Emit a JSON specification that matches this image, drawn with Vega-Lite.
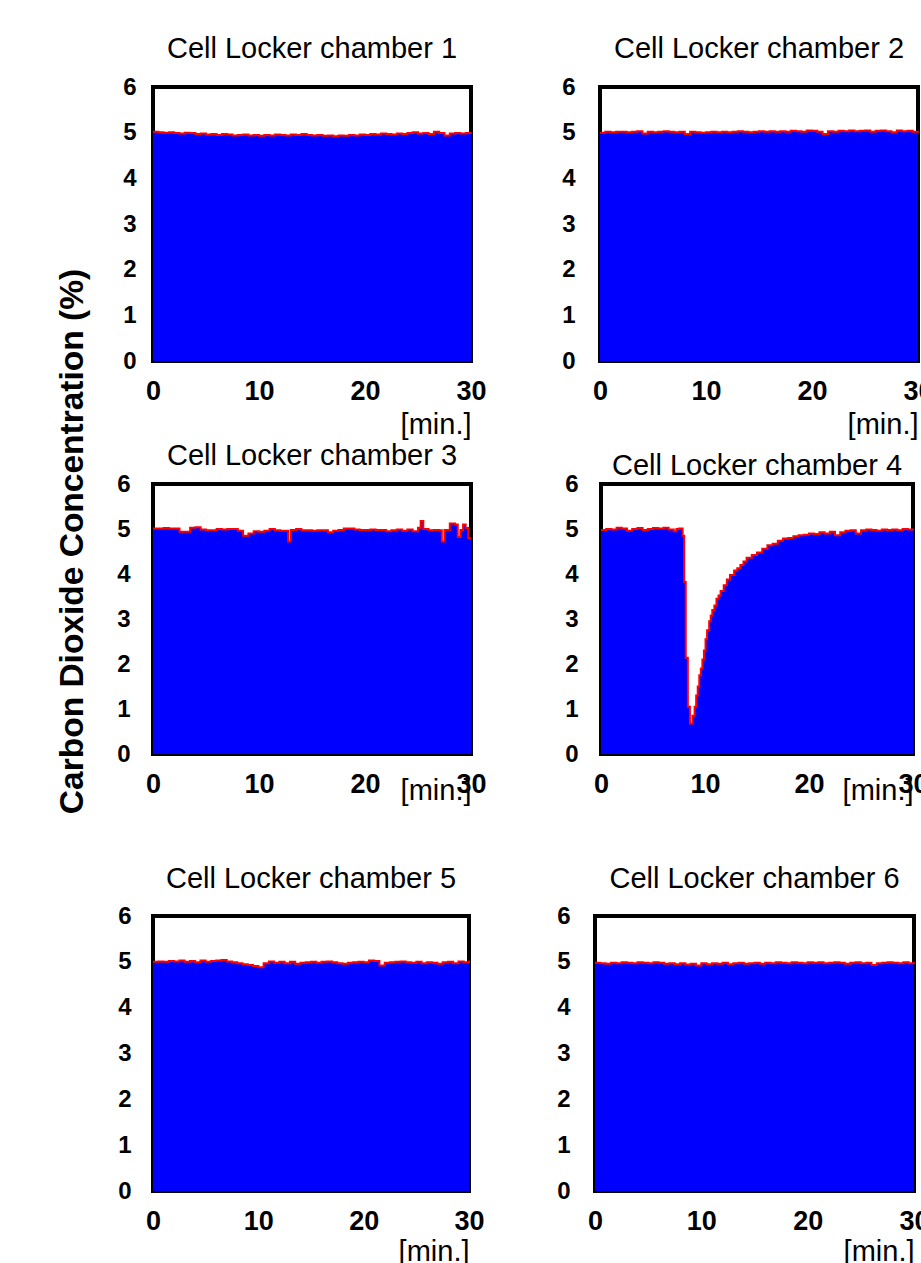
{
  "$schema": "https://vega.github.io/schema/vega-lite/v6.json",
  "padding": {"left": 56, "top": 33, "right": 0, "bottom": 0},
  "background": "white",
  "title": {"text": "Carbon Dioxide Concentration (%)", "orient": "left", "anchor": "middle", "frame": "bounds", "fontSize": 33.5, "fontWeight": "bold", "font": "Liberation Sans", "color": "black", "baseline": "alphabetic", "offset": -2, "dx": 109},
  "config": {
    "view": {"stroke": "black", "strokeWidth": 4},
    "font": "Liberation Sans",
    "title": {"font": "Liberation Sans", "fontSize": 29, "fontWeight": "normal", "color": "black", "frame": "group", "baseline": "alphabetic", "anchor": "middle"},
    "axis": {"ticks": false, "tickSize": 0, "grid": false, "domain": false, "labelFont": "Liberation Sans", "labelFontWeight": "bold", "labelColor": "black", "titleFont": "Liberation Sans", "titleFontWeight": "normal", "titleColor": "black"},
    "axisX": {"labelFontSize": 27, "labelPadding": 17, "labelFlush": false, "labelOverlap": false, "titleFontSize": 29, "titleAnchor": "end", "titleBaseline": "alphabetic", "titleY": 72},
    "axisY": {"labelFontSize": 24}
  },
  "datasets": {
    "c1": [{"t":0,"v":5.02},{"t":0.5,"v":5.01},{"t":1,"v":5.0},{"t":1.5,"v":5.01},{"t":2,"v":4.99},{"t":2.5,"v":4.98},{"t":3,"v":5.0},{"t":3.5,"v":4.99},{"t":4,"v":4.97},{"t":4.5,"v":4.98},{"t":5,"v":4.96},{"t":5.5,"v":4.97},{"t":6,"v":4.95},{"t":6.5,"v":4.97},{"t":7,"v":4.96},{"t":7.5,"v":4.94},{"t":8,"v":4.95},{"t":8.5,"v":4.96},{"t":9,"v":4.94},{"t":9.5,"v":4.95},{"t":10,"v":4.93},{"t":10.5,"v":4.95},{"t":11,"v":4.94},{"t":11.5,"v":4.96},{"t":12,"v":4.95},{"t":12.5,"v":4.94},{"t":13,"v":4.96},{"t":13.5,"v":4.95},{"t":14,"v":4.97},{"t":14.5,"v":4.95},{"t":15,"v":4.94},{"t":15.5,"v":4.95},{"t":16,"v":4.93},{"t":16.5,"v":4.94},{"t":17,"v":4.92},{"t":17.5,"v":4.94},{"t":18,"v":4.93},{"t":18.5,"v":4.95},{"t":19,"v":4.94},{"t":19.5,"v":4.96},{"t":20,"v":4.95},{"t":20.5,"v":4.97},{"t":21,"v":4.96},{"t":21.5,"v":4.98},{"t":22,"v":4.97},{"t":22.5,"v":4.96},{"t":23,"v":4.98},{"t":23.5,"v":4.97},{"t":24,"v":4.99},{"t":24.5,"v":5.01},{"t":25,"v":4.98},{"t":25.5,"v":4.99},{"t":26,"v":4.97},{"t":26.5,"v":5.02},{"t":27,"v":4.99},{"t":27.5,"v":4.94},{"t":28,"v":4.98},{"t":28.5,"v":4.99},{"t":29,"v":4.98},{"t":29.5,"v":4.99},{"t":30,"v":5.0}],
    "c2": [{"t":0,"v":5.0},{"t":0.5,"v":5.02},{"t":1,"v":5.01},{"t":1.5,"v":5.02},{"t":2,"v":5.02},{"t":2.5,"v":5.01},{"t":3,"v":5.02},{"t":3.5,"v":5.03},{"t":4,"v":4.98},{"t":4.5,"v":5.02},{"t":5,"v":5.01},{"t":5.5,"v":5.02},{"t":6,"v":5.03},{"t":6.5,"v":5.02},{"t":7,"v":5.01},{"t":7.5,"v":5.02},{"t":8,"v":4.97},{"t":8.5,"v":5.02},{"t":9,"v":5.01},{"t":9.5,"v":5.0},{"t":10,"v":5.01},{"t":10.5,"v":5.02},{"t":11,"v":5.01},{"t":11.5,"v":5.02},{"t":12,"v":5.01},{"t":12.5,"v":5.02},{"t":13,"v":5.03},{"t":13.5,"v":5.02},{"t":14,"v":5.01},{"t":14.5,"v":5.02},{"t":15,"v":5.03},{"t":15.5,"v":5.02},{"t":16,"v":5.03},{"t":16.5,"v":5.02},{"t":17,"v":5.03},{"t":17.5,"v":5.02},{"t":18,"v":5.04},{"t":18.5,"v":5.03},{"t":19,"v":5.02},{"t":19.5,"v":5.05},{"t":20,"v":5.04},{"t":20.5,"v":5.02},{"t":21,"v":4.97},{"t":21.5,"v":5.03},{"t":22,"v":5.02},{"t":22.5,"v":5.04},{"t":23,"v":5.03},{"t":23.5,"v":5.05},{"t":24,"v":5.03},{"t":24.5,"v":5.04},{"t":25,"v":5.05},{"t":25.5,"v":5.02},{"t":26,"v":5.04},{"t":26.5,"v":5.05},{"t":27,"v":5.03},{"t":27.5,"v":5.01},{"t":28,"v":5.05},{"t":28.5,"v":5.03},{"t":29,"v":5.04},{"t":29.5,"v":5.02},{"t":30,"v":5.04}],
    "c3": [{"t":0,"v":5.01},{"t":0.5,"v":5.01},{"t":1,"v":5.02},{"t":1.5,"v":5.01},{"t":2,"v":5.01},{"t":2.5,"v":4.94},{"t":3,"v":4.94},{"t":3.5,"v":5.03},{"t":4,"v":5.04},{"t":4.5,"v":4.99},{"t":5,"v":4.97},{"t":5.5,"v":4.97},{"t":6,"v":5.0},{"t":6.5,"v":4.99},{"t":7,"v":5.0},{"t":7.5,"v":5.0},{"t":8,"v":4.96},{"t":8.5,"v":4.85},{"t":9,"v":4.9},{"t":9.5,"v":4.95},{"t":10,"v":4.94},{"t":10.5,"v":4.96},{"t":11,"v":5.0},{"t":11.5,"v":4.97},{"t":12,"v":4.96},{"t":12.5,"v":4.96},{"t":12.75,"v":4.72},{"t":13,"v":4.98},{"t":13.5,"v":5.0},{"t":14,"v":4.97},{"t":14.5,"v":4.97},{"t":15,"v":4.96},{"t":15.5,"v":4.97},{"t":16,"v":4.97},{"t":16.5,"v":4.93},{"t":17,"v":4.96},{"t":17.5,"v":4.98},{"t":18,"v":5.01},{"t":18.5,"v":5.01},{"t":19,"v":4.99},{"t":19.5,"v":4.98},{"t":20,"v":4.98},{"t":20.5,"v":4.99},{"t":21,"v":4.98},{"t":21.5,"v":4.98},{"t":22,"v":4.95},{"t":22.5,"v":4.97},{"t":23,"v":4.99},{"t":23.5,"v":4.96},{"t":24,"v":4.99},{"t":24.5,"v":4.95},{"t":25,"v":5.03},{"t":25.25,"v":5.18},{"t":25.5,"v":5.0},{"t":26,"v":4.97},{"t":26.5,"v":4.98},{"t":27,"v":4.97},{"t":27.25,"v":4.72},{"t":27.5,"v":4.98},{"t":28,"v":5.12},{"t":28.5,"v":5.1},{"t":28.75,"v":4.82},{"t":29,"v":4.98},{"t":29.25,"v":5.1},{"t":29.5,"v":5.02},{"t":29.75,"v":4.8},{"t":30,"v":4.8}],
    "c4": [{"t":0,"v":4.98},{"t":0.5,"v":5.0},{"t":1,"v":4.99},{"t":1.5,"v":5.03},{"t":2,"v":5.01},{"t":2.5,"v":4.96},{"t":3,"v":5.0},{"t":3.5,"v":5.02},{"t":4,"v":4.98},{"t":4.5,"v":5.0},{"t":5,"v":5.02},{"t":5.5,"v":5.01},{"t":6,"v":5.03},{"t":6.5,"v":4.99},{"t":7,"v":4.95},{"t":7.25,"v":5.0},{"t":7.5,"v":5.01},{"t":7.85,"v":4.85},{"t":8.0,"v":3.82},{"t":8.15,"v":2.14},{"t":8.35,"v":1.05},{"t":8.55,"v":0.68},{"t":8.8,"v":0.85},{"t":9.0,"v":1.05},{"t":9.15,"v":1.3},{"t":9.3,"v":1.5},{"t":9.45,"v":1.75},{"t":9.6,"v":1.9},{"t":9.75,"v":2.1},{"t":9.9,"v":2.3},{"t":10.05,"v":2.55},{"t":10.2,"v":2.75},{"t":10.4,"v":2.95},{"t":10.55,"v":3.08},{"t":10.7,"v":3.2},{"t":10.9,"v":3.3},{"t":11.1,"v":3.45},{"t":11.3,"v":3.52},{"t":11.5,"v":3.62},{"t":11.8,"v":3.75},{"t":12.1,"v":3.88},{"t":12.4,"v":3.98},{"t":12.8,"v":4.08},{"t":13.1,"v":4.13},{"t":13.4,"v":4.2},{"t":13.7,"v":4.28},{"t":14.0,"v":4.36},{"t":14.5,"v":4.42},{"t":15.0,"v":4.48},{"t":15.5,"v":4.56},{"t":16.0,"v":4.64},{"t":16.5,"v":4.67},{"t":17.0,"v":4.74},{"t":17.5,"v":4.79},{"t":18.0,"v":4.8},{"t":18.5,"v":4.84},{"t":19.0,"v":4.86},{"t":19.5,"v":4.87},{"t":20,"v":4.9},{"t":20.5,"v":4.89},{"t":21,"v":4.93},{"t":21.5,"v":4.9},{"t":22,"v":4.94},{"t":22.5,"v":4.86},{"t":23,"v":4.93},{"t":23.5,"v":4.96},{"t":24,"v":4.97},{"t":24.5,"v":4.9},{"t":25,"v":4.97},{"t":25.5,"v":4.99},{"t":26,"v":4.98},{"t":26.5,"v":4.96},{"t":27,"v":4.99},{"t":27.5,"v":4.98},{"t":28,"v":4.99},{"t":28.5,"v":4.97},{"t":29,"v":5.0},{"t":29.5,"v":4.99},{"t":30,"v":5.0}],
    "c5": [{"t":0,"v":5.0},{"t":0.5,"v":5.01},{"t":1,"v":5.0},{"t":1.5,"v":5.02},{"t":2,"v":5.01},{"t":2.5,"v":5.03},{"t":3,"v":5.0},{"t":3.5,"v":5.02},{"t":4,"v":4.99},{"t":4.5,"v":5.03},{"t":5,"v":5.0},{"t":5.5,"v":5.02},{"t":6,"v":5.03},{"t":6.5,"v":5.04},{"t":7,"v":5.01},{"t":7.5,"v":4.99},{"t":8,"v":4.97},{"t":8.5,"v":4.95},{"t":9,"v":4.93},{"t":9.5,"v":4.91},{"t":10,"v":4.88},{"t":10.5,"v":4.97},{"t":11,"v":5.01},{"t":11.5,"v":4.98},{"t":12,"v":5.0},{"t":12.5,"v":4.97},{"t":13,"v":5.0},{"t":13.5,"v":4.96},{"t":14,"v":4.98},{"t":14.5,"v":4.99},{"t":15,"v":5.0},{"t":15.5,"v":4.98},{"t":16,"v":5.0},{"t":16.5,"v":5.01},{"t":17,"v":4.99},{"t":17.5,"v":4.97},{"t":18,"v":4.96},{"t":18.5,"v":4.98},{"t":19,"v":4.99},{"t":19.5,"v":5.0},{"t":20,"v":4.99},{"t":20.5,"v":5.03},{"t":21,"v":5.02},{"t":21.5,"v":4.92},{"t":22,"v":4.98},{"t":22.5,"v":4.99},{"t":23,"v":5.0},{"t":23.5,"v":5.01},{"t":24,"v":4.99},{"t":24.5,"v":4.98},{"t":25,"v":5.0},{"t":25.5,"v":4.97},{"t":26,"v":4.99},{"t":26.5,"v":4.98},{"t":27,"v":4.96},{"t":27.5,"v":4.99},{"t":28,"v":5.0},{"t":28.5,"v":4.97},{"t":29,"v":5.01},{"t":29.5,"v":4.99},{"t":30,"v":5.03}],
    "c6": [{"t":0,"v":4.98},{"t":0.5,"v":4.97},{"t":1,"v":4.96},{"t":1.5,"v":4.98},{"t":2,"v":4.97},{"t":2.5,"v":4.99},{"t":3,"v":4.98},{"t":3.5,"v":4.97},{"t":4,"v":4.99},{"t":4.5,"v":4.98},{"t":5,"v":4.97},{"t":5.5,"v":4.99},{"t":6,"v":4.98},{"t":6.5,"v":4.96},{"t":7,"v":4.97},{"t":7.5,"v":4.95},{"t":8,"v":4.97},{"t":8.5,"v":4.94},{"t":9,"v":4.96},{"t":9.5,"v":4.92},{"t":10,"v":4.97},{"t":10.5,"v":4.95},{"t":11,"v":4.97},{"t":11.5,"v":4.96},{"t":12,"v":4.98},{"t":12.5,"v":4.95},{"t":13,"v":4.97},{"t":13.5,"v":4.98},{"t":14,"v":4.96},{"t":14.5,"v":4.97},{"t":15,"v":4.98},{"t":15.5,"v":4.96},{"t":16,"v":4.98},{"t":16.5,"v":4.97},{"t":17,"v":4.99},{"t":17.5,"v":4.98},{"t":18,"v":4.97},{"t":18.5,"v":4.99},{"t":19,"v":4.98},{"t":19.5,"v":4.97},{"t":20,"v":4.99},{"t":20.5,"v":4.98},{"t":21,"v":4.99},{"t":21.5,"v":4.97},{"t":22,"v":4.98},{"t":22.5,"v":4.99},{"t":23,"v":4.98},{"t":23.5,"v":4.96},{"t":24,"v":4.98},{"t":24.5,"v":4.99},{"t":25,"v":4.97},{"t":25.5,"v":4.98},{"t":26,"v":4.93},{"t":26.5,"v":4.97},{"t":27,"v":4.98},{"t":27.5,"v":4.99},{"t":28,"v":4.98},{"t":28.5,"v":4.97},{"t":29,"v":4.99},{"t":29.5,"v":4.97},{"t":30,"v":4.96}]
  },
  "spacing": 56,
  "vconcat": [
    {
      "spacing": -1,
      "vconcat": [
        {
          "spacing": 70,
          "hconcat": [
            {
              "width": 318, "height": 274,
              "title": {"text": "Cell Locker chamber 1", "offset": 11},
              "data": {"name": "c1"},
              "encoding": {
                "x": {"field": "t", "type": "quantitative", "scale": {"domain": [0, 30], "nice": false}, "axis": {"values": [0, 10, 20, 30], "title": "[min.]"}},
                "y": {"field": "v", "type": "quantitative", "scale": {"domain": [0, 6], "nice": false}, "axis": {"values": [0, 1, 2, 3, 4, 5, 6], "title": null, "labelPadding": 17}}
              },
              "layer": [
                {"mark": {"type": "area", "interpolate": "step-after", "color": "#0000ff"}},
                {"mark": {"type": "line", "interpolate": "step-after", "color": "#ff0000", "strokeWidth": 2}}
              ]
            },
            {
              "width": 318, "height": 274,
              "title": {"text": "Cell Locker chamber 2", "offset": 11},
              "data": {"name": "c2"},
              "encoding": {
                "x": {"field": "t", "type": "quantitative", "scale": {"domain": [0, 30], "nice": false}, "axis": {"values": [0, 10, 20, 30], "title": "[min.]"}},
                "y": {"field": "v", "type": "quantitative", "scale": {"domain": [0, 6], "nice": false}, "axis": {"values": [0, 1, 2, 3, 4, 5, 6], "title": null, "labelPadding": 25}}
              },
              "layer": [
                {"mark": {"type": "area", "interpolate": "step-after", "color": "#0000ff"}},
                {"mark": {"type": "line", "interpolate": "step-after", "color": "#ff0000", "strokeWidth": 2}}
              ]
            }
          ]
        },
        {
          "spacing": 73,
          "hconcat": [
            {
              "width": 318, "height": 270,
              "title": {"text": "Cell Locker chamber 3", "offset": 1},
              "data": {"name": "c3"},
              "encoding": {
                "x": {"field": "t", "type": "quantitative", "scale": {"domain": [0, 30], "nice": false}, "axis": {"values": [0, 10, 20, 30], "title": "[min.]", "titleY": 45}},
                "y": {"field": "v", "type": "quantitative", "scale": {"domain": [0, 6], "nice": false}, "axis": {"values": [0, 1, 2, 3, 4, 5, 6], "title": null, "labelPadding": 23}}
              },
              "layer": [
                {"mark": {"type": "area", "interpolate": "step-after", "color": "#0000ff"}},
                {"mark": {"type": "line", "interpolate": "step-after", "color": "#ff0000", "strokeWidth": 2}}
              ]
            },
            {
              "width": 312, "height": 270,
              "title": {"text": "Cell Locker chamber 4", "offset": -9},
              "data": {"name": "c4"},
              "encoding": {
                "x": {"field": "t", "type": "quantitative", "scale": {"domain": [0, 30], "nice": false}, "axis": {"values": [0, 10, 20, 30], "title": "[min.]", "titleY": 45}},
                "y": {"field": "v", "type": "quantitative", "scale": {"domain": [0, 6], "nice": false}, "axis": {"values": [0, 1, 2, 3, 4, 5, 6], "title": null, "labelPadding": 23}}
              },
              "layer": [
                {"mark": {"type": "area", "interpolate": "step-after", "color": "#0000ff"}},
                {"mark": {"type": "line", "interpolate": "step-after", "color": "#ff0000", "strokeWidth": 2}}
              ]
            }
          ]
        }
      ]
    },
    {
      "spacing": 67,
      "hconcat": [
        {
          "width": 316, "height": 275,
          "title": {"text": "Cell Locker chamber 5", "offset": 10},
          "data": {"name": "c5"},
          "encoding": {
            "x": {"field": "t", "type": "quantitative", "scale": {"domain": [0, 30], "nice": false}, "axis": {"values": [0, 10, 20, 30], "title": "[min.]", "titleY": 69}},
            "y": {"field": "v", "type": "quantitative", "scale": {"domain": [0, 6], "nice": false}, "axis": {"values": [0, 1, 2, 3, 4, 5, 6], "title": null, "labelPadding": 22}}
          },
          "layer": [
            {"mark": {"type": "area", "interpolate": "step-after", "color": "#0000ff"}},
            {"mark": {"type": "line", "interpolate": "step-after", "color": "#ff0000", "strokeWidth": 2}}
          ]
        },
        {
          "width": 319, "height": 275,
          "title": {"text": "Cell Locker chamber 6", "offset": 10},
          "data": {"name": "c6"},
          "encoding": {
            "x": {"field": "t", "type": "quantitative", "scale": {"domain": [0, 30], "nice": false}, "axis": {"values": [0, 10, 20, 30], "title": "[min.]", "titleY": 69}},
            "y": {"field": "v", "type": "quantitative", "scale": {"domain": [0, 6], "nice": false}, "axis": {"values": [0, 1, 2, 3, 4, 5, 6], "title": null, "labelPadding": 25}}
          },
          "layer": [
            {"mark": {"type": "area", "interpolate": "step-after", "color": "#0000ff"}},
            {"mark": {"type": "line", "interpolate": "step-after", "color": "#ff0000", "strokeWidth": 2}}
          ]
        }
      ]
    }
  ]
}
